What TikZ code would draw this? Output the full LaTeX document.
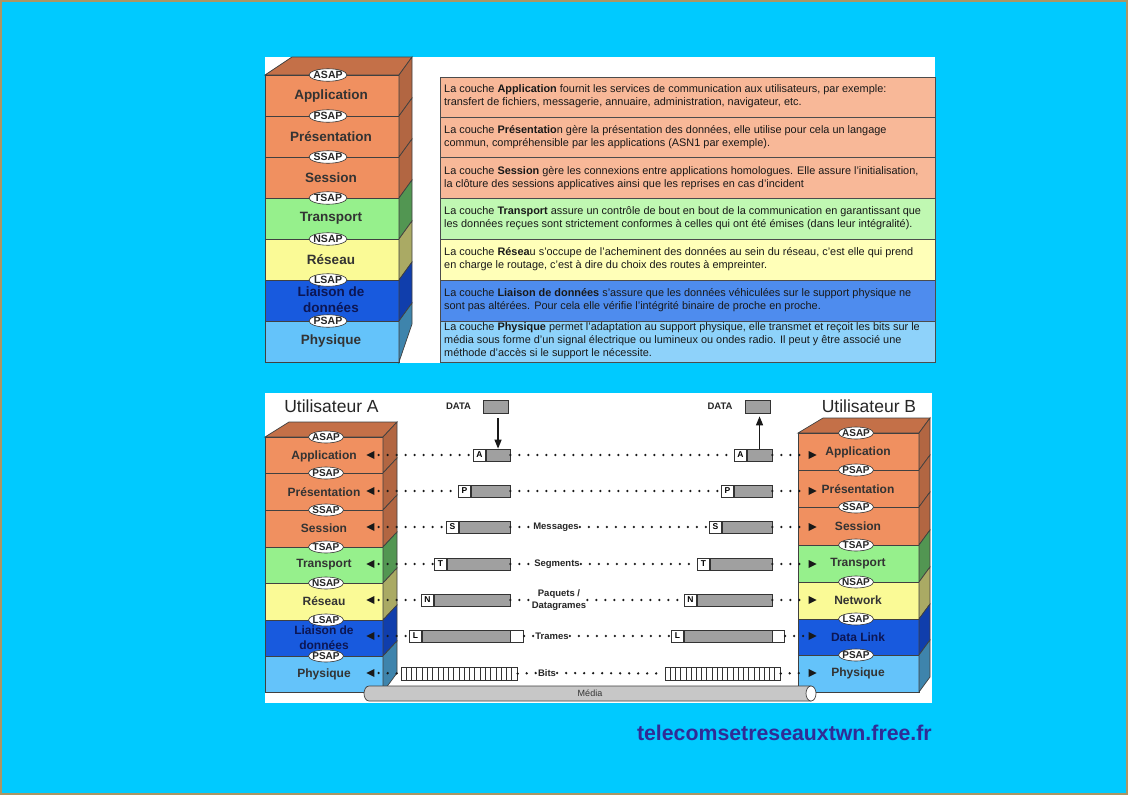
\documentclass[tikz,border=0pt]{standalone}
\usepackage{fontspec}
\setmainfont{Liberation Sans}
\usetikzlibrary{shapes.geometric,arrows.meta,calc}
\definecolor{bgcyan}{RGB}{0,202,255}
\definecolor{borderc}{RGB}{170,150,100}
\definecolor{orF}{RGB}{240,144,96}
\definecolor{orS}{RGB}{178,102,66}
\definecolor{orT}{RGB}{196,112,72}
\definecolor{grF}{RGB}{150,240,140}
\definecolor{grS}{RGB}{82,150,82}
\definecolor{yeF}{RGB}{250,250,150}
\definecolor{yeS}{RGB}{170,170,100}
\definecolor{blF}{RGB}{24,90,222}
\definecolor{blS}{RGB}{16,62,172}
\definecolor{lbF}{RGB}{100,195,250}
\definecolor{lbS}{RGB}{62,132,172}
\definecolor{orP}{RGB}{248,184,152}
\definecolor{grP}{RGB}{192,248,178}
\definecolor{yeP}{RGB}{255,255,184}
\definecolor{blP}{RGB}{78,140,238}
\definecolor{lbP}{RGB}{142,210,250}
\definecolor{pktgray}{RGB}{160,160,160}
\definecolor{webblue}{RGB}{48,44,150}
\definecolor{navy}{RGB}{12,22,84}
\newcommand\osilayer[9]{%
  \filldraw[fill=#7, draw=black!75, line width=0.7pt] (#1,#5) rectangle (#2,#6);
  \filldraw[fill=#8, draw=black!75, line width=0.7pt] (#2,#5) -- (#3,{#5-#4}) -- (#3,{#6-#9}) -- (#2,#6) -- cycle;
}
\newcommand\saptxt[1]{\makebox[0pt]{#1}}
\tikzset{
  sap/.style={ellipse, draw=black!80, fill=white, line width=0.6pt, inner sep=0pt,
    minimum width=38pt, minimum height=12.5pt, font=\bfseries\fontsize{10.5}{10}\selectfont, text=black!85},
  sapb/.style={sap, minimum width=35pt, minimum height=12pt, font=\bfseries\fontsize{10}{10}\selectfont},
  lblT/.style={font=\bfseries\fontsize{13.5}{16}\selectfont, text=black!80, align=center, inner sep=0pt},
  lblB/.style={font=\bfseries\fontsize{12}{15}\selectfont, text=black!80, align=center, inner sep=0pt},
  rowtxt/.style={font=\fontsize{10.9}{13}\selectfont, align=left, inner sep=0pt, anchor=west, text=black!90},
  rowbox/.style={draw=black!70, line width=0.8pt},
  hdr/.style={draw=black!80, fill=white, minimum width=12pt, minimum height=12pt, inner sep=0pt,
    line width=0.7pt, font=\bfseries\fontsize{8.5}{8}\selectfont, anchor=west},
  body/.style={draw=black!80, fill=pktgray, minimum height=12pt, inner sep=0pt, line width=0.7pt, anchor=west},
  dotline/.style={line width=2.6pt, line cap=round, dash pattern=on 0pt off 9pt, black!90},
  mid/.style={font=\bfseries\fontsize{9.5}{11}\selectfont, align=center, inner sep=1pt, text=black!85},
  trileft/.style={isosceles triangle, shape border rotate=180, isosceles triangle stretches,
    fill=black!90, inner sep=0pt, minimum height=8pt, minimum width=8pt},
  triright/.style={trileft, shape border rotate=0},
  bitsbox/.style={draw=black!80, fill=white, minimum height=13pt, inner sep=0pt, line width=0.7pt, anchor=west},
  arrowst/.style={-{Triangle[length=9pt,width=7pt]}, line width=1.3pt, black!90},
}
\begin{document}
\begin{tikzpicture}[x=1pt,y=-1pt]
\useasboundingbox (0,0) rectangle (1128,795);
\fill[bgcyan] (0,0) rectangle (1128,795);
\draw[borderc, line width=2pt] (1,1) rectangle (1127,794);

% ===== top panel =====
\fill[white] (265,57) rectangle (935,363);
% top stack
\filldraw[fill=orT, draw=black!75, line width=0.7pt] (265,75) -- (292,57) -- (412,57) -- (399,75) -- cycle;
\osilayer{265}{399}{412}{18}{75}{116}{orF}{orS}{18}
\osilayer{265}{399}{412}{18}{116}{157}{orF}{orS}{18}
\osilayer{265}{399}{412}{18}{157}{198}{orF}{orS}{18}
\osilayer{265}{399}{412}{18}{198}{239}{grF}{grS}{18}
\osilayer{265}{399}{412}{18}{239}{280}{yeF}{yeS}{18}
\osilayer{265}{399}{412}{18}{280}{321}{blF}{blS}{18}
\osilayer{265}{399}{412}{18}{321}{362}{lbF}{lbS}{38}
\node[lblT] (tApp) at (331,96) {Application};
\node[lblT] (tPre) at (331,137) {Présentation};
\node[lblT] (tSes) at (331,178) {Session};
\node[lblT] (tTra) at (331,218.5) {Transport};
\node[lblT] (tRes) at (331,259.5) {Réseau};
\node[lblT, text=navy] (tLia) at (331,300) {Liaison de\\données};
\node[lblT] (tPhy) at (331,341.5) {Physique};
\node[sap] (tsA) at (328,75) {\saptxt{ASAP}};
\node[sap] (tsP) at (328,116) {\saptxt{PSAP}};
\node[sap] (tsS) at (328,157) {\saptxt{SSAP}};
\node[sap] (tsT) at (328,198) {\saptxt{TSAP}};
\node[sap] (tsN) at (328,239) {\saptxt{NSAP}};
\node[sap] (tsL) at (328,280) {\saptxt{LSAP}};
\node[sap] (tsPh) at (328,321) {\saptxt{PSAP}};

% description rows
\filldraw[rowbox, fill=orP] (440,77) rectangle (935,117);
\filldraw[rowbox, fill=orP] (440,117) rectangle (935,157);
\filldraw[rowbox, fill=orP] (440,157) rectangle (935,198);
\filldraw[rowbox, fill=grP] (440,198) rectangle (935,239);
\filldraw[rowbox, fill=yeP] (440,239) rectangle (935,280);
\filldraw[rowbox, fill=blP] (440,280) rectangle (935,321);
\filldraw[rowbox, fill=lbP] (440,321) rectangle (935,362);
\node[rowtxt] (dApp) at (444,96.5) {La couche \textbf{Application} fournit les services de communication aux utilisateurs, par exemple:\\transfert de fichiers, messagerie, annuaire, administration, navigateur, etc.};
\node[rowtxt] (dPre) at (444,137) {La couche \textbf{Présentatio}n gère la présentation des données, elle utilise pour cela un langage\\commun, compréhensible par les applications (ASN1 par exemple).};
\node[rowtxt] (dSes) at (444,178) {La couche \textbf{Session} gère les connexions entre applications homologues. Elle assure l’initialisation,\\la clôture des sessions applicatives ainsi que les reprises en cas d’incident};
\node[rowtxt] (dTra) at (444,218.5) {La couche \textbf{Transport} assure un contrôle de bout en bout de la communication en garantissant que\\les données reçues sont strictement conformes à celles qui ont été émises (dans leur intégralité).};
\node[rowtxt] (dRes) at (444,259.5) {La couche \textbf{Résea}u s’occupe de l’acheminent des données au sein du réseau, c’est elle qui prend\\en charge le routage, c’est à dire du choix des routes à empreinter.};
\node[rowtxt] (dLia) at (444,300.5) {La couche \textbf{Liaison de données} s’assure que les données véhiculées sur le support physique ne\\sont pas altérées. Pour cela elle vérifie l’intégrité binaire de proche en proche.};
\node[rowtxt] (dPhy) at (444,341) {La couche \textbf{Physique} permet l’adaptation au support physique, elle transmet et reçoit les bits sur le\\média sous forme d’un signal électrique ou lumineux ou ondes radio. Il peut y être associé une\\méthode d’accès si le support le nécessite.};

% ===== bottom panel =====
\fill[white] (265,393) rectangle (932,703);
\node[font=\fontsize{17.5}{17}\selectfont, text=black!85, inner sep=0pt] (uA) at (331.5,406) {Utilisateur A};
\node[font=\fontsize{17.5}{17}\selectfont, text=black!85, inner sep=0pt] (uB) at (869,406) {Utilisateur B};

% left stack
\filldraw[fill=orT, draw=black!75, line width=0.7pt] (265,437) -- (289,422) -- (397,422) -- (383,437) -- cycle;
\osilayer{265}{383}{397}{15}{437}{473}{orF}{orS}{15}
\osilayer{265}{383}{397}{15}{473}{510}{orF}{orS}{15}
\osilayer{265}{383}{397}{15}{510}{547}{orF}{orS}{15}
\osilayer{265}{383}{397}{15}{547}{583}{grF}{grS}{15}
\osilayer{265}{383}{397}{15}{583}{620}{yeF}{yeS}{15}
\osilayer{265}{383}{397}{15}{620}{656}{blF}{blS}{15}
\osilayer{265}{383}{397}{15}{656}{692}{lbF}{lbS}{19}
\node[lblB] (lApp) at (324,456) {Application};
\node[lblB] (lPre) at (324,492) {Présentation};
\node[lblB] (lSes) at (324,528.5) {Session};
\node[lblB] (lTra) at (324,565) {Transport};
\node[lblB] (lRes) at (324,601.5) {Réseau};
\node[lblB, text=navy] (lLia) at (324,637.5) {Liaison de\\données};
\node[lblB] (lPhy) at (324,674) {Physique};
\node[sapb] (lsA) at (326,437) {\saptxt{ASAP}};
\node[sapb] (lsP) at (326,473) {\saptxt{PSAP}};
\node[sapb] (lsS) at (326,510) {\saptxt{SSAP}};
\node[sapb] (lsT) at (326,547) {\saptxt{TSAP}};
\node[sapb] (lsN) at (326,583) {\saptxt{NSAP}};
\node[sapb] (lsL) at (326,620) {\saptxt{LSAP}};
\node[sapb] (lsPh) at (326,656) {\saptxt{PSAP}};

% right stack
\filldraw[fill=orT, draw=black!75, line width=0.7pt] (798,433) -- (823,418) -- (930,418) -- (919,433) -- cycle;
\osilayer{798}{919}{930}{15}{433}{470}{orF}{orS}{15}
\osilayer{798}{919}{930}{15}{470}{507}{orF}{orS}{15}
\osilayer{798}{919}{930}{15}{507}{545}{orF}{orS}{15}
\osilayer{798}{919}{930}{15}{545}{582}{grF}{grS}{15}
\osilayer{798}{919}{930}{15}{582}{619}{yeF}{yeS}{15}
\osilayer{798}{919}{930}{15}{619}{655}{blF}{blS}{15}
\osilayer{798}{919}{930}{15}{655}{692}{lbF}{lbS}{15}
\node[lblB] (rApp) at (858,452) {Application};
\node[lblB] (rPre) at (858,489) {Présentation};
\node[lblB] (rSes) at (858,526.5) {Session};
\node[lblB] (rTra) at (858,563.5) {Transport};
\node[lblB] (rNet) at (858,600) {Network};
\node[lblB, text=navy] (rDat) at (858,637) {Data Link};
\node[lblB] (rPhy) at (858,673.5) {Physique};
\node[sapb] (rsA) at (856,433) {\saptxt{ASAP}};
\node[sapb] (rsP) at (856,470) {\saptxt{PSAP}};
\node[sapb] (rsS) at (856,507) {\saptxt{SSAP}};
\node[sapb] (rsT) at (856,545) {\saptxt{TSAP}};
\node[sapb] (rsN) at (856,582) {\saptxt{NSAP}};
\node[sapb] (rsL) at (856,619) {\saptxt{LSAP}};
\node[sapb] (rsPh) at (856,655) {\saptxt{PSAP}};

% arrows at stacks
\foreach \k/\y in {1/455,2/491,3/527,4/564,5/600,6/636,7/673}{
  \node[trileft] (tl\k) at (372,\y) {};
  \node[triright] (tr\k) at (811,\y) {};
}

% DATA
\node[mid] (dataL) at (458.5,406.5) {DATA};
\node[body, minimum width=25pt, minimum height=13pt] (dataLb) at (483,406.5) {};
\node[mid] (dataR) at (720,406.5) {DATA};
\node[body, minimum width=25pt, minimum height=13pt] (dataRb) at (745,406.5) {};

% left packets
\node[hdr] (lAh) at (473,455) {A};
\node[body, minimum width=24pt] (lAb) at (lAh.east) {};
\node[hdr] (lPh) at (458,491) {P};
\node[body, minimum width=39pt] (lPb) at (lPh.east) {};
\node[hdr] (lSh) at (446,527) {S};
\node[body, minimum width=51pt] (lSb) at (lSh.east) {};
\node[hdr] (lTh) at (434,564) {T};
\node[body, minimum width=63pt] (lTb) at (lTh.east) {};
\node[hdr] (lNh) at (421,600) {N};
\node[body, minimum width=76pt] (lNb) at (lNh.east) {};
\node[hdr] (lLh) at (409,636) {L};
\node[body, minimum width=88pt] (lLb) at (lLh.east) {};
\node[hdr, minimum width=13pt] (lLt) at (lLb.east) {};
\node[bitsbox, minimum width=116pt] (bitsL) at (401,673.5) {};
\foreach \i in {1,...,21}{ \draw[black!80, line width=0.7pt] ({401+\i*5.27},667) -- ({401+\i*5.27},680); }

% right packets
\node[hdr] (rAh) at (734,455) {A};
\node[body, minimum width=25pt] (rAb) at (rAh.east) {};
\node[hdr] (rPh) at (721,491) {P};
\node[body, minimum width=38pt] (rPb) at (rPh.east) {};
\node[hdr] (rSh) at (709,527) {S};
\node[body, minimum width=50pt] (rSb) at (rSh.east) {};
\node[hdr] (rTh) at (697,564) {T};
\node[body, minimum width=62pt] (rTb) at (rTh.east) {};
\node[hdr] (rNh) at (684,600) {N};
\node[body, minimum width=75pt] (rNb) at (rNh.east) {};
\node[hdr] (rLh) at (671,636) {L};
\node[body, minimum width=88pt] (rLb) at (rLh.east) {};
\node[hdr, minimum width=12pt] (rLt) at (rLb.east) {};
\node[bitsbox, minimum width=115pt] (bitsR) at (665,673.5) {};
\foreach \i in {1,...,21}{ \draw[black!80, line width=0.7pt] ({665+\i*5.23},667) -- ({665+\i*5.23},680); }

% middle labels
\node[mid] (mMsg) at (556,527) {Messages};
\node[mid] (mSeg) at (557,564) {Segments};
\node[mid, font=\bfseries\fontsize{9.5}{12}\selectfont] (mPaq) at (559,600) {Paquets /\\Datagrames};
\node[mid] (mTra) at (552,636) {Trames};
\node[mid] (mBit) at (547,673) {Bits};

% data arrows
\draw[arrowst] ($(lAb.north |- dataLb.south)+(0,5)$) -- (lAb.north);
\draw[arrowst] (rAb.north) -- ($(rAb.north |- dataRb.south)+(0,3)$);

% dotted lines
\draw[dotline] ([xshift=4pt]tl1.east) -- (lAh.west);
\draw[dotline] (lAb.east) -- (rAh.west);
\draw[dotline] (rAb.east) -- ([xshift=-4pt]tr1.west);
\draw[dotline] ([xshift=4pt]tl2.east) -- (lPh.west);
\draw[dotline] (lPb.east) -- (rPh.west);
\draw[dotline] (rPb.east) -- ([xshift=-4pt]tr2.west);
\draw[dotline] ([xshift=4pt]tl3.east) -- (lSh.west);
\draw[dotline] (lSb.east) -- (mMsg.west);
\draw[dotline] (mMsg.east) -- (rSh.west);
\draw[dotline] (rSb.east) -- ([xshift=-4pt]tr3.west);
\draw[dotline] ([xshift=4pt]tl4.east) -- (lTh.west);
\draw[dotline] (lTb.east) -- (mSeg.west);
\draw[dotline] (mSeg.east) -- (rTh.west);
\draw[dotline] (rTb.east) -- ([xshift=-4pt]tr4.west);
\draw[dotline] ([xshift=4pt]tl5.east) -- (lNh.west);
\draw[dotline] (lNb.east) -- (lNb.east -| mPaq.west);
\draw[dotline] (mPaq.east |- rNh.west) -- (rNh.west);
\draw[dotline] (rNb.east) -- ([xshift=-4pt]tr5.west);
\draw[dotline] ([xshift=4pt]tl6.east) -- (lLh.west);
\draw[dotline] (lLt.east) -- (mTra.west);
\draw[dotline] (mTra.east) -- (rLh.west);
\draw[dotline] (rLt.east) -- ([xshift=-4pt]tr6.west);
\draw[dotline] ([xshift=4pt]tl7.east) -- (bitsL.west);
\draw[dotline] (bitsL.east) -- (mBit.west);
\draw[dotline] (mBit.east) -- (bitsR.west);
\draw[dotline] (bitsR.east) -- ([xshift=-4pt]tr7.west);

% media cylinder
\filldraw[fill=black!22, draw=black!75, line width=0.7pt] (811,686) -- (369,686)
  arc[start angle=-90, end angle=-270, x radius=5, y radius=7.5] -- (811,701) -- cycle;
\filldraw[fill=white, draw=black!75, line width=0.7pt] (811,693.5) ellipse [x radius=5, y radius=7.5];
\node[font=\fontsize{9}{9}\selectfont, text=black!80, inner sep=0pt] (media) at (590,693.5) {Média};

% website
\node[anchor=east, font=\bfseries\fontsize{21.3}{22}\selectfont, text=webblue, inner sep=0pt] (web) at (932,733) {telecomsetreseauxtwn.free.fr};
\end{tikzpicture}
\end{document}
